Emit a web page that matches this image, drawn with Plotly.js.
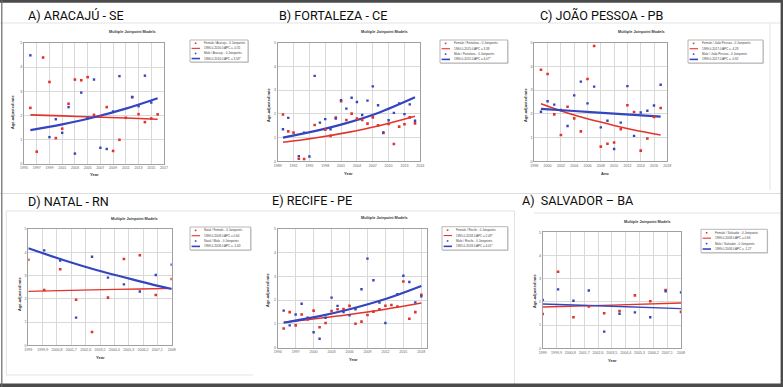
<!DOCTYPE html>
<html>
<head>
<meta charset="utf-8">
<script src="https://cdn.plot.ly/plotly-3.0.1.min.js"></script>
<style>html,body{margin:0;padding:0;background:#fff;}#chart{width:783px;height:387px;}</style>
</head>
<body>
<div id="chart"></div>
<script>
// ---------------- DATA ----------------
const aracajuYears = [1996,1997,1998,1999,2000,2001,2002,2003,2004,2005,2006,2007,2008,2009,2010,2011,2012,2013,2014,2015,2016];
const aracajuFemale = [2.32,0.51,4.40,3.39,1.07,1.46,2.49,3.49,3.46,3.59,2.03,1.96,2.35,0.54,1.00,1.91,2.77,2.06,1.73,1.88,2.05];
const aracajuMale = [4.49,null,null,1.11,1.85,1.29,2.35,0.43,2.95,1.90,3.49,0.67,0.62,2.17,3.63,null,2.76,2.39,3.65,2.54,null];
const aracajuTrendYears = [1996,2001,2006,2011,2016];
const aracajuFemaleTrend = [2.03,1.99,1.94,1.90,1.85];
const aracajuMaleTrend = [1.40,1.64,1.93,2.29,2.72];
const aracajuLegend = ["Female / Aracaju - 0 Joinpoints","1996.0-2016.0 APC = -0.31","Male / Aracaju - 0 Joinpoints","1996.0-2016.0 APC = 3.58*"];

const fortalezaYears = [1990,1991,1992,1993,1994,1995,1996,1997,1998,1999,2000,2001,2002,2003,2004,2005,2006,2007,2008,2009,2010,2011,2012,2013,2014,2015];
const fortalezaFemale = [1.97,1.26,1.21,0.11,0.10,null,1.53,null,1.33,1.07,1.84,2.53,1.74,2.01,1.80,1.74,1.59,1.85,1.52,1.19,1.57,0.73,1.46,1.56,1.85,1.60];
const fortalezaMale = [1.35,1.83,null,0.22,1.21,0.20,3.60,1.63,1.78,1.35,1.80,2.58,2.22,2.68,2.50,1.95,2.56,3.16,2.36,1.22,1.73,2.04,2.44,1.99,2.40,1.71];
const fortalezaTrendYears = [1990,1996,2002,2008,2015];
const fortalezaFemaleTrend = [0.80,0.98,1.21,1.49,1.90];
const fortalezaMaleTrend = [1.00,1.27,1.61,2.04,2.70];
const fortalezaLegend = ["Female / Fortaleza - 0 Joinpoints","1990.0-2015.0 APC = 3.38","Male / Fortaleza - 0 Joinpoints","1990.0-2015.0 APC = 4.07*"];

const joaoYears = [1999,2000,2001,2002,2003,2004,2005,2006,2007,2008,2009,2010,2011,2012,2013,2014,2015,2016,2017];
const joaoFemale = [3.86,3.68,1.98,1.11,2.30,1.81,1.26,3.47,4.86,0.62,0.74,0.79,1.35,2.36,2.08,0.45,0.96,1.87,2.25];
const joaoMale = [2.09,2.53,2.39,2.16,1.49,2.78,3.36,2.44,3.15,1.43,1.71,0.52,1.63,3.17,1.07,2.06,2.13,2.35,3.23];
const joaoTrendYears = [1999,2004,2010,2013,2017];
const joaoFemaleTrend = [2.43,1.95,1.51,1.32,1.11];
const joaoMaleTrend = [2.21,2.12,2.01,1.96,1.88];
const joaoLegend = ["Female / João Pessoa - 0 Joinpoints","1999.0-2017.0 APC = -4.28","Male / João Pessoa - 0 Joinpoints","1999.0-2017.0 APC = -0.92"];

const natalYears = [1999,2000,2001,2002,2003,2004,2005,2006,2007,2008];
const natalFemale = [3.68,2.38,3.27,1.96,0.57,2.05,3.71,3.87,2.16,2.85];
const natalMale = [null,4.08,3.64,1.19,3.81,2.91,2.62,2.31,3.02,3.47];
const natalTrendYears = [1999,2001,2003,2006,2008];
const natalFemaleTrend = [2.32,2.35,2.38,2.42,2.45];
const natalMaleTrend = [4.17,3.71,3.29,2.75,2.42];
const natalLegend = ["Natal / Female - 0 Joinpoints","1999.0-2008.0 APC = 0.64","Natal / Male - 0 Joinpoints","1999.0-2008.0 APC = -5.63"];

const recifeYears = [1995,1996,1997,1998,1999,2000,2001,2002,2003,2004,2005,2006,2007,2008,2009,2010,2011,2012,2013,2014,2015,2016,2017,2018];
const recifeFemale = [0.81,1.50,0.94,1.40,1.19,1.56,0.86,1.04,1.54,1.62,1.63,1.76,1.01,1.10,1.38,1.52,1.62,1.77,1.80,1.73,2.79,1.22,1.50,2.23];
const recifeMale = [1.56,0.94,1.40,1.85,1.26,0.65,0.38,1.26,2.11,1.76,1.50,1.36,1.62,2.46,3.75,2.84,1.90,1.04,null,2.25,3.03,2.77,1.91,2.16];
const recifeTrendYears = [1995,2001,2006,2012,2018];
const recifeFemaleTrend = [1.07,1.24,1.40,1.62,1.88];
const recifeMaleTrend = [1.05,1.33,1.62,2.05,2.60];
const recifeLegend = ["Female / Recife - 0 Joinpoints","1995.0-2018.0 APC = 2.49*","Male / Recife - 0 Joinpoints","1995.0-2018.0 APC = 4.01*"];

const salvadorYears = [1999,2000,2001,2002,2003,2004,2005,2006,2007,2008];
const salvadorFemale = [1.48,3.30,1.34,1.80,1.51,1.61,2.28,2.03,2.51,1.57];
const salvadorMale = [2.08,2.54,2.05,2.49,0.72,1.49,1.55,1.34,2.46,2.41];
const salvadorTrendYears = [1999,2003.5,2008];
const salvadorFemaleTrend = [1.78,1.86,1.95];
const salvadorMaleTrend = [1.91,1.81,1.71];
const salvadorLegend = ["Female / Salvador - 0 Joinpoints","1999.0-2008.0 APC = 0.84","Male / Salvador - 0 Joinpoints","1999.0-2008.0 APC = -1.27"];

const decimalTickVals = [1999,1999.9,2000.8,2001.7,2002.6,2003.5,2004.4,2005.3,2006.2,2007.1,2008];
const decimalTickText = ["1999","1999,9","2000,8","2001,7","2002,6","2003,5","2004,4","2005,3","2006,2","2007,1","2008"];

const panelTitles = ["A) ARACAJÚ - SE","B) FORTALEZA - CE","C) JOÃO PESSOA - PB","D) NATAL - RN","E) RECIFE - PE","A)\u00a0 SALVADOR – BA"];

// ---------------- LAYOUT ----------------
const W = 783, H = 387;
const px = x => x / W;
const py = y => 1 - y / H;
const RED = '#e3342c', BLUE = '#3445bf';

const panels = [
  {years:aracajuYears, f:aracajuFemale, m:aracajuMale, ty:aracajuTrendYears, tf:aracajuFemaleTrend, tm:aracajuMaleTrend, leg:aracajuLegend,
   box:[24,164,43,164], xr:[1995,2017], tick0:1995, dtick:2, lg:[190,40,248,62], t:[25.5,15.5], sub:[132,32], xt:[94,174,'Year'], yt:[13,112], bw:2.2, rw:1.6},
  {years:fortalezaYears, f:fortalezaFemale, m:fortalezaMale, ty:fortalezaTrendYears, tf:fortalezaFemaleTrend, tm:fortalezaMaleTrend, leg:fortalezaLegend,
   box:[277.7,420.3,42.7,161.3], xr:[1989,2016], tick0:1989, dtick:3, lg:[440,40,507.7,63], t:[276.5,15.5], sub:[384,32], xt:[348,173,'Year'], yt:[268,105], bw:2.2, rw:1.6},
  {years:joaoYears, f:joaoFemale, m:joaoMale, ty:joaoTrendYears, tf:joaoFemaleTrend, tm:joaoMaleTrend, leg:joaoLegend,
   box:[534.3,667.3,42.7,161.3], xr:[1998,2018], tick0:1998, dtick:2, lg:[688,40,763,63], t:[537.5,15.5], sub:[641,32], xt:[605,173,'Ano'], yt:[525,105], bw:2.2, rw:1.6},
  {years:natalYears, f:natalFemale, m:natalMale, ty:natalTrendYears, tf:natalFemaleTrend, tm:natalMaleTrend, leg:natalLegend,
   box:[28.3,171.7,229,345.3], xr:[1999,2008], tickvals:decimalTickVals, ticktext:decimalTickText, lg:[190,227,250.7,250], t:[25.5,201.5], sub:[134,219], xt:[100,357,'Year'], yt:[19,294], bw:2.2, rw:1.3},
  {years:recifeYears, f:recifeFemale, m:recifeMale, ty:recifeTrendYears, tf:recifeFemaleTrend, tm:recifeMaleTrend, leg:recifeLegend,
   box:[277.7,426.7,229,347.7], xr:[1994,2018.9], tick0:1994, dtick:3, lg:[442,226.7,507.7,250], t:[269.5,200.5], sub:[384,218], xt:[353,359,'Year'], yt:[267,290], bw:2.2, rw:1.6},
  {years:salvadorYears, f:salvadorFemale, m:salvadorMale, ty:salvadorTrendYears, tf:salvadorFemaleTrend, tm:salvadorMaleTrend, leg:salvadorLegend,
   box:[542.7,681,232.3,348.3], xr:[1999,2008], tickvals:decimalTickVals, ticktext:decimalTickText, lg:[701,229.3,767.3,252.7], t:[519.5,200.5], sub:[647,222], xt:[612,360,'Year'], yt:[534,291], bw:1.4, rw:1.4}
];

const traces = [];
const layout = {
  width: W, height: H, margin:{l:0,r:0,t:0,b:0}, paper_bgcolor:'#ffffff', plot_bgcolor:'#ffffff',
  showlegend:false, font:{family:'Liberation Sans, Arial, sans-serif', color:'#333'},
  shapes:[], annotations:[]
};

const lightLine = (x0,y0,x1,y1,c,w) => ({type:'line', xref:'paper', yref:'paper', x0:px(x0), y0:py(y0), x1:px(x1), y1:py(y1), line:{color:c||'#e3e3e3', width:w||1}, layer:'below'});

// faint panel frames
layout.shapes.push(lightLine(0,23,783,23));
layout.shapes.push(lightLine(770,23,770,190));
layout.shapes.push(lightLine(0,193.5,783,193.5,'#dcdcdc'));
layout.shapes.push(lightLine(6,211,515,211));
layout.shapes.push(lightLine(534,213,783,213));
layout.shapes.push(lightLine(6.3,211,6.3,375));
layout.shapes.push(lightLine(6,375,253,375));
layout.shapes.push(lightLine(514.5,211,514.5,384));

panels.forEach((p,i) => {
  const n = i+1;
  const xa = 'x' + (n===1?'':n), ya = 'y' + (n===1?'':n);
  const xk = 'xaxis' + (n===1?'':n), yk = 'yaxis' + (n===1?'':n);
  const [l,r,t,b] = p.box;
  layout[xk] = {
    domain:[px(l),px(r)], range:p.xr, anchor:ya,
    showline:true, mirror:true, linecolor:'#a0a0a0', linewidth:1,
    showgrid:true, gridcolor:'#d9d9d9', gridwidth:1, zeroline:false, ticks:'',
    tickfont:{size:3.6, color:'#666'}, tickangle:0, fixedrange:true
  };
  if (p.tickvals) { layout[xk].tickmode='array'; layout[xk].tickvals=p.tickvals; layout[xk].ticktext=p.ticktext; }
  else { layout[xk].tickmode='linear'; layout[xk].tick0=p.tick0; layout[xk].dtick=p.dtick; }
  layout[yk] = {
    domain:[py(b),py(t)], range:[0,5], anchor:xa, tickmode:'linear', tick0:0, dtick:1,
    showline:true, mirror:true, linecolor:'#a0a0a0', linewidth:1,
    showgrid:true, gridcolor:'#d9d9d9', gridwidth:1, zeroline:false, ticks:'',
    tickfont:{size:3.6, color:'#666'}, fixedrange:true
  };
  traces.push({x:p.ty, y:p.tf, xaxis:xa, yaxis:ya, mode:'lines', line:{color:RED, width:p.rw, shape:'spline'}, hoverinfo:'skip'});
  traces.push({x:p.ty, y:p.tm, xaxis:xa, yaxis:ya, mode:'lines', line:{color:BLUE, width:p.bw, shape:'spline'}, hoverinfo:'skip'});
  traces.push({x:p.years, y:p.f, xaxis:xa, yaxis:ya, mode:'markers', marker:{symbol:'square', size:2.6, color:RED}});
  traces.push({x:p.years, y:p.m, xaxis:xa, yaxis:ya, mode:'markers', marker:{symbol:'square', size:2.4, color:BLUE}});

  // panel title
  layout.annotations.push({text:panelTitles[i], xref:'paper', yref:'paper', x:px(p.t[0]), y:py(p.t[1]), xanchor:'left', yanchor:'middle', showarrow:false,
    font:{family:'Roboto, Liberation Sans, sans-serif', size:12.6, color:'#0d0d0d'}});
  // chart subtitle
  layout.annotations.push({text:'Multiple Joinpoint Models', xref:'paper', yref:'paper', x:px(p.sub[0]), y:py(p.sub[1]), xanchor:'center', yanchor:'middle', showarrow:false,
    font:{size:3.8, color:'#333', weight:'bold'}});
  // axis titles
  layout.annotations.push({text:p.xt[2], xref:'paper', yref:'paper', x:px(p.xt[0]), y:py(p.xt[1]), xanchor:'center', yanchor:'middle', showarrow:false,
    font:{size:4, color:'#333', weight:'bold'}});
  layout.annotations.push({text:'Age-adjusted rate', xref:'paper', yref:'paper', x:px(p.yt[0]), y:py(p.yt[1]), xanchor:'center', yanchor:'middle', textangle:-90, showarrow:false,
    font:{size:4, color:'#333', weight:'bold'}});

  // legend box (drawn manually, library legend symbols are too large at this scale)
  const [lx0,ly0,lx1,ly1] = p.lg;
  layout.shapes.push({type:'rect', xref:'paper', yref:'paper', x0:px(lx0+0.8), y0:py(ly1+0.8), x1:px(lx1+0.8), y1:py(ly0+0.8), line:{width:0}, fillcolor:'#d0d0d0'});
  layout.shapes.push({type:'rect', xref:'paper', yref:'paper', x0:px(lx0), y0:py(ly1), x1:px(lx1), y1:py(ly0), line:{color:'#9a9a9a', width:0.7}, fillcolor:'#ffffff'});
  const step = (ly1-ly0)/4.4;
  p.leg.forEach((txt,k) => {
    const ry = ly0 + step*0.65 + k*step*1.02;
    const col = k<2 ? RED : BLUE;
    if (k%2===0) {
      layout.shapes.push({type:'rect', xref:'paper', yref:'paper', x0:px(lx0+4.8), y0:py(ry+0.8), x1:px(lx0+6.4), y1:py(ry-0.8), line:{width:0}, fillcolor:col});
    } else {
      layout.shapes.push({type:'line', xref:'paper', yref:'paper', x0:px(lx0+1.6), y0:py(ry), x1:px(lx0+10), y1:py(ry), line:{color:col, width:(k===3?1.6:1.1)}});
    }
    layout.annotations.push({text:txt, xref:'paper', yref:'paper', x:px(lx0+12.2), y:py(ry), xanchor:'left', yanchor:'middle', showarrow:false,
      font:{size:3, color:'#444'}});
  });
});

// dark outer frame
const dark = '#4b4b4b';
layout.shapes.push({type:'rect', xref:'paper', yref:'paper', x0:0, x1:1, y0:py(2.7), y1:1, line:{width:0}, fillcolor:dark});
layout.shapes.push({type:'rect', xref:'paper', yref:'paper', x0:px(780.6), x1:1, y0:0, y1:1, line:{width:0}, fillcolor:dark});
layout.shapes.push({type:'rect', xref:'paper', yref:'paper', x0:0, x1:1, y0:0, y1:py(383.6), line:{width:0}, fillcolor:dark});
layout.shapes.push({type:'line', xref:'paper', yref:'paper', x0:px(1.8), x1:px(1.8), y0:0, y1:1, line:{width:1.2, color:'#6a6a6a'}});

Plotly.newPlot('chart', traces, layout, {staticPlot:true, displayModeBar:false});
</script>
</body>
</html>
